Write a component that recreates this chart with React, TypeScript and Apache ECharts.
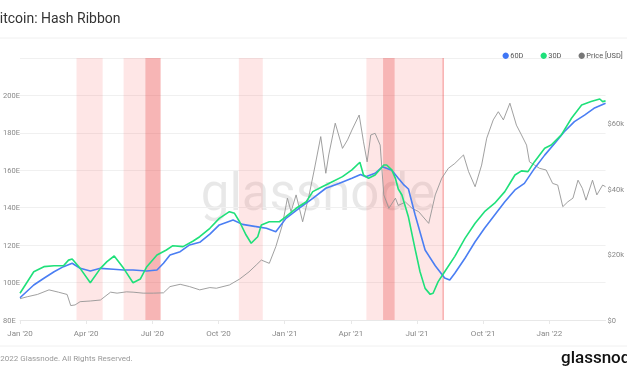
import React, { useEffect, useRef } from "react";
import * as echarts from "echarts";

const hash60D: [string, number][] = [
  ["2020-01-01", 91.9], ["2020-01-20", 98.7], ["2020-02-03", 102.3], ["2020-02-17", 105.8],
  ["2020-03-01", 108.5], ["2020-03-13", 110.3], ["2020-03-24", 107.6], ["2020-04-07", 106.2],
  ["2020-04-21", 107.6], ["2020-05-09", 107.1], ["2020-05-23", 106.7], ["2020-06-05", 106.7],
  ["2020-06-24", 106.2], ["2020-07-08", 106.7], ["2020-07-17", 110.3], ["2020-07-26", 114.7],
  ["2020-08-09", 116.5], ["2020-08-22", 120.1], ["2020-09-05", 121.5], ["2020-09-19", 125.9],
  ["2020-10-02", 130.8], ["2020-10-21", 133.4], ["2020-11-03", 131.1], ["2020-11-22", 129.9],
  ["2020-12-06", 129.0], ["2020-12-19", 127.2], ["2021-01-02", 134.3], ["2021-01-20", 139.7],
  ["2021-02-08", 145.0], ["2021-02-26", 150.4], ["2021-03-16", 153.0], ["2021-04-03", 155.7],
  ["2021-04-15", 157.8], ["2021-04-22", 156.6], ["2021-05-05", 158.4], ["2021-05-15", 161.9],
  ["2021-05-28", 160.0], ["2021-06-06", 155.7], ["2021-06-13", 152.5], ["2021-06-20", 150.0],
  ["2021-06-29", 136.5], ["2021-07-13", 117.4], ["2021-07-27", 109.0], ["2021-08-09", 102.5],
  ["2021-08-16", 101.4], ["2021-08-23", 105.0], ["2021-09-06", 113.0], ["2021-09-20", 121.8],
  ["2021-10-03", 129.0], ["2021-10-17", 136.1], ["2021-10-31", 143.2], ["2021-11-14", 149.5],
  ["2021-11-27", 153.0], ["2021-12-11", 161.0], ["2021-12-25", 168.1], ["2022-01-08", 174.4],
  ["2022-01-21", 180.6], ["2022-02-04", 186.0], ["2022-02-18", 189.5], ["2022-03-03", 193.1],
  ["2022-03-19", 195.8],
];

const hash30D: [string, number][] = [
  ["2020-01-01", 94.3], ["2020-01-20", 105.8], ["2020-02-03", 108.5], ["2020-02-17", 109.0],
  ["2020-03-01", 109.0], ["2020-03-08", 112.0], ["2020-03-13", 112.6], ["2020-03-24", 107.6],
  ["2020-04-07", 99.9], ["2020-04-21", 107.6], ["2020-04-30", 111.2], ["2020-05-10", 114.2],
  ["2020-05-23", 107.6], ["2020-06-05", 99.9], ["2020-06-15", 101.9], ["2020-06-24", 108.5],
  ["2020-07-08", 114.7], ["2020-07-21", 117.4], ["2020-07-30", 119.7], ["2020-08-13", 119.2],
  ["2020-08-27", 122.2], ["2020-09-05", 124.5], ["2020-09-19", 129.0], ["2020-10-02", 134.3],
  ["2020-10-16", 137.9], ["2020-10-23", 137.0], ["2020-10-30", 132.5], ["2020-11-08", 125.4],
  ["2020-11-15", 121.0], ["2020-11-24", 124.5], ["2020-11-29", 130.8], ["2020-12-10", 132.5],
  ["2020-12-24", 132.5], ["2021-01-02", 135.2], ["2021-01-16", 139.7], ["2021-01-30", 143.2],
  ["2021-02-08", 148.6], ["2021-02-21", 151.2], ["2021-03-07", 153.9], ["2021-03-21", 156.6],
  ["2021-04-03", 160.2], ["2021-04-14", 164.3], ["2021-04-19", 157.5], ["2021-04-26", 155.7],
  ["2021-05-05", 157.5], ["2021-05-17", 162.8], ["2021-05-21", 162.8], ["2021-05-28", 160.2],
  ["2021-06-02", 155.7], ["2021-06-06", 150.0], ["2021-06-11", 146.8], ["2021-06-20", 135.0],
  ["2021-06-29", 118.3], ["2021-07-06", 105.8], ["2021-07-13", 96.9], ["2021-07-20", 93.7],
  ["2021-07-24", 94.3], ["2021-07-31", 100.5], ["2021-08-09", 105.8], ["2021-08-23", 114.0],
  ["2021-09-06", 123.6], ["2021-09-20", 131.7], ["2021-10-03", 137.9], ["2021-10-17", 142.4],
  ["2021-10-31", 148.6], ["2021-11-14", 157.5], ["2021-11-23", 159.7], ["2021-12-02", 159.3],
  ["2021-12-11", 164.6], ["2021-12-25", 171.8], ["2022-01-03", 173.5], ["2022-01-17", 178.9],
  ["2022-01-31", 187.8], ["2022-02-14", 194.9], ["2022-02-27", 196.7], ["2022-03-11", 198.1],
  ["2022-03-15", 196.7], ["2022-03-19", 197.1],
];

// price in thousands of USD
const priceUsdK: [string, number][] = [
  ["2020-01-01", 6.5], ["2020-01-11", 7.1], ["2020-01-25", 7.8], ["2020-02-10", 9.2],
  ["2020-02-23", 8.5], ["2020-03-06", 7.8], ["2020-03-11", 4.4], ["2020-03-17", 4.6],
  ["2020-03-24", 5.6], ["2020-04-07", 5.8], ["2020-04-21", 6.1], ["2020-05-05", 8.5],
  ["2020-05-14", 8.2], ["2020-05-27", 8.6], ["2020-06-05", 8.5], ["2020-06-19", 8.2],
  ["2020-07-03", 8.2], ["2020-07-17", 8.3], ["2020-07-26", 10.2], ["2020-08-09", 10.9],
  ["2020-08-22", 10.2], ["2020-09-05", 9.2], ["2020-09-19", 9.9], ["2020-09-28", 9.7],
  ["2020-10-16", 10.7], ["2020-10-30", 12.5], ["2020-11-12", 14.7], ["2020-11-22", 16.8],
  ["2020-11-29", 18.3], ["2020-12-10", 17.3], ["2020-12-19", 22.4], ["2020-12-28", 29.0],
  ["2021-01-04", 37.2], ["2021-01-09", 33.1], ["2021-01-16", 38.2], ["2021-01-25", 30.0],
  ["2021-02-03", 38.2], ["2021-02-10", 45.8], ["2021-02-19", 56.0], ["2021-02-26", 44.8],
  ["2021-03-02", 50.4], ["2021-03-11", 60.1], ["2021-03-21", 52.4], ["2021-03-28", 55.0],
  ["2021-04-03", 58.0], ["2021-04-13", 62.6], ["2021-04-19", 54.4], ["2021-04-24", 48.3],
  ["2021-04-29", 56.5], ["2021-05-05", 57.0], ["2021-05-12", 53.4], ["2021-05-17", 38.2],
  ["2021-05-24", 34.1], ["2021-06-02", 37.2], ["2021-06-06", 35.0], ["2021-06-16", 36.0],
  ["2021-06-25", 34.1], ["2021-07-04", 33.1], ["2021-07-18", 29.5], ["2021-07-27", 38.2],
  ["2021-08-05", 43.3], ["2021-08-14", 46.3], ["2021-08-23", 47.8], ["2021-09-04", 50.4],
  ["2021-09-11", 45.3], ["2021-09-20", 40.7], ["2021-09-29", 47.3], ["2021-10-06", 55.5],
  ["2021-10-15", 61.1], ["2021-10-22", 63.6], ["2021-10-29", 61.1], ["2021-11-07", 66.2],
  ["2021-11-16", 59.5], ["2021-11-23", 56.5], ["2021-11-30", 53.4], ["2021-12-04", 48.3],
  ["2021-12-11", 47.3], ["2021-12-18", 46.3], ["2021-12-27", 45.8], ["2022-01-05", 41.7],
  ["2022-01-12", 41.2], ["2022-01-19", 34.6], ["2022-01-26", 36.1], ["2022-02-02", 37.2],
  ["2022-02-09", 42.7], ["2022-02-15", 40.2], ["2022-02-20", 36.6], ["2022-03-01", 42.7],
  ["2022-03-07", 38.2], ["2022-03-15", 41.2], ["2022-03-19", 40.7],
];

// capitulation periods (light) and recovery periods (dark)
const lightBands: [string, string][] = [
  ["2020-03-19", "2020-04-24"],
  ["2020-05-23", "2020-06-22"],
  ["2020-10-29", "2020-12-01"],
  ["2021-04-23", "2021-05-16"],
  ["2021-06-01", "2021-08-07"],
];
const darkBands: [string, string][] = [
  ["2020-06-22", "2020-07-13"],
  ["2021-05-16", "2021-06-01"],
  ["2021-08-06", "2021-08-08"],
];

const legendItems = [
  { name: "60D", color: "#3f76f5" },
  { name: "30D", color: "#1ee07a" },
  { name: "Price [USD]", color: "#777777" },
];

const startDate = "2020-01-01";
const endDate = "2022-03-19";
const monthNames = ["Jan", "Feb", "Mar", "Apr", "May", "Jun", "Jul", "Aug", "Sep", "Oct", "Nov", "Dec"];
const FONT = "Roboto";
const DAY = 86400000;
const QUARTER = 365.25 / 4;

const dayOf = (s: string) => (Date.parse(s) - Date.parse(startDate)) / DAY;
const toXY = (arr: [string, number][]) => arr.map(([d, v]) => [dayOf(d), v]);

export default function App() {
  const ref = useRef<HTMLDivElement>(null);
  useEffect(() => {
    if (!ref.current) return;
    const chart = echarts.init(ref.current, null, { renderer: "svg" });
    const bandData: any[] = [
      ...lightBands.map(([a, b]) => [
        { xAxis: dayOf(a), itemStyle: { color: "rgba(245,90,90,0.15)" } },
        { xAxis: dayOf(b) },
      ]),
      ...darkBands.map(([a, b]) => [
        { xAxis: dayOf(a), itemStyle: { color: "rgba(235,60,60,0.38)" } },
        { xAxis: dayOf(b) },
      ]),
    ];
    const legendGraphics: any[] = [];
    const legendX = [505.7, 543.7, 581.7];
    legendItems.forEach((it, i) => {
      legendGraphics.push({ type: "circle", z: 10, shape: { cx: legendX[i], cy: 55.7, r: 3.2 }, style: { fill: it.color } });
      legendGraphics.push({
        type: "text", z: 10, x: legendX[i] + 4.6, y: 55.7,
        style: { text: it.name, fontSize: 7.4, fill: "#555", fontFamily: FONT, verticalAlign: "middle" },
      });
    });
    chart.setOption({
      animation: false,
      grid: { left: 19, right: 19, top: 58, bottom: 56 },
      xAxis: {
        type: "value",
        min: 0,
        max: dayOf(endDate),
        interval: QUARTER,
        axisLine: { lineStyle: { color: "#e8e8e8" } },
        axisTick: { show: true, length: 4, lineStyle: { color: "#e8e8e8" } },
        splitLine: { show: false },
        axisLabel: {
          fontSize: 8,
          color: "#888",
          fontFamily: FONT,
          margin: 9,
          showMaxLabel: false,
          formatter: (v: number) => {
            const q = v / QUARTER;
            if (Math.abs(q - Math.round(q)) > 0.01) return "";
            const d = new Date(Date.parse(startDate) + (v + 2) * DAY);
            return monthNames[d.getUTCMonth()] + " '" + String(d.getUTCFullYear()).slice(2);
          },
        },
      },
      yAxis: [
        {
          type: "value",
          min: 80,
          max: 220,
          interval: 20,
          position: "left",
          axisLine: { show: false },
          axisTick: { show: false },
          splitLine: { lineStyle: { color: "#f0f0f0" } },
          axisLabel: {
            fontSize: 7.5,
            color: "#888",
            fontFamily: FONT,
            align: "left",
            margin: 17,
            formatter: (v: number) => (v >= 220 ? "" : v + "E"),
          },
        },
        {
          type: "value",
          min: 0,
          max: 80,
          interval: 20,
          position: "right",
          axisLine: { show: false },
          axisTick: { show: false },
          splitLine: { show: false },
          axisLabel: {
            fontSize: 7.5,
            color: "#888",
            fontFamily: FONT,
            margin: 2,
            formatter: (v: number) => (v >= 80 ? "" : v === 0 ? "$0" : "$" + v + "k"),
          },
        },
      ],
      graphic: [
        { type: "text", x: -9, y: 18, z: 10, style: { text: "Bitcoin: Hash Ribbon", fontSize: 14, fill: "#333", fontFamily: FONT, verticalAlign: "middle" } },
        { type: "line", z: 1, shape: { x1: 0, y1: 38, x2: 627, y2: 38 }, style: { stroke: "#f0f0f0", lineWidth: 1 } },
        { type: "line", z: 1, shape: { x1: 0, y1: 346, x2: 627, y2: 346 }, style: { stroke: "#f0f0f0", lineWidth: 1 } },
        { type: "text", x: -8, y: 358, z: 10, style: { text: "© 2022 Glassnode. All Rights Reserved.", fontSize: 8, fill: "#999", fontFamily: FONT, verticalAlign: "middle" } },
        { type: "text", x: 561, y: 357, z: 10, style: { text: "glassnode", fontSize: 17, fill: "#111", fontFamily: FONT, fontWeight: 500, verticalAlign: "middle" } },
        {
          type: "text",
          x: 318,
          y: 192,
          z: 0,
          style: { text: "glassnode", fontSize: 51, fill: "rgba(0,0,0,0.09)", fontFamily: FONT, align: "center", verticalAlign: "middle" },
        },
        ...legendGraphics,
      ],
      series: [
        {
          name: "Price [USD]",
          type: "line",
          yAxisIndex: 1,
          data: toXY(priceUsdK),
          showSymbol: false,
          lineStyle: { color: "#959595", width: 0.9 },
          markArea: { silent: true, data: bandData },
        },
        {
          name: "60D",
          type: "line",
          data: toXY(hash60D),
          showSymbol: false,
          lineStyle: { color: "#4a7ef3", width: 1.6 },
        },
        {
          name: "30D",
          type: "line",
          data: toXY(hash30D),
          showSymbol: false,
          lineStyle: { color: "#1fe07a", width: 1.6 },
        },
      ],
    });
    return () => chart.dispose();
  }, []);
  return <div ref={ref} style={{ position: "fixed", left: 0, top: 0, width: 627, height: 376 }} />;
}
